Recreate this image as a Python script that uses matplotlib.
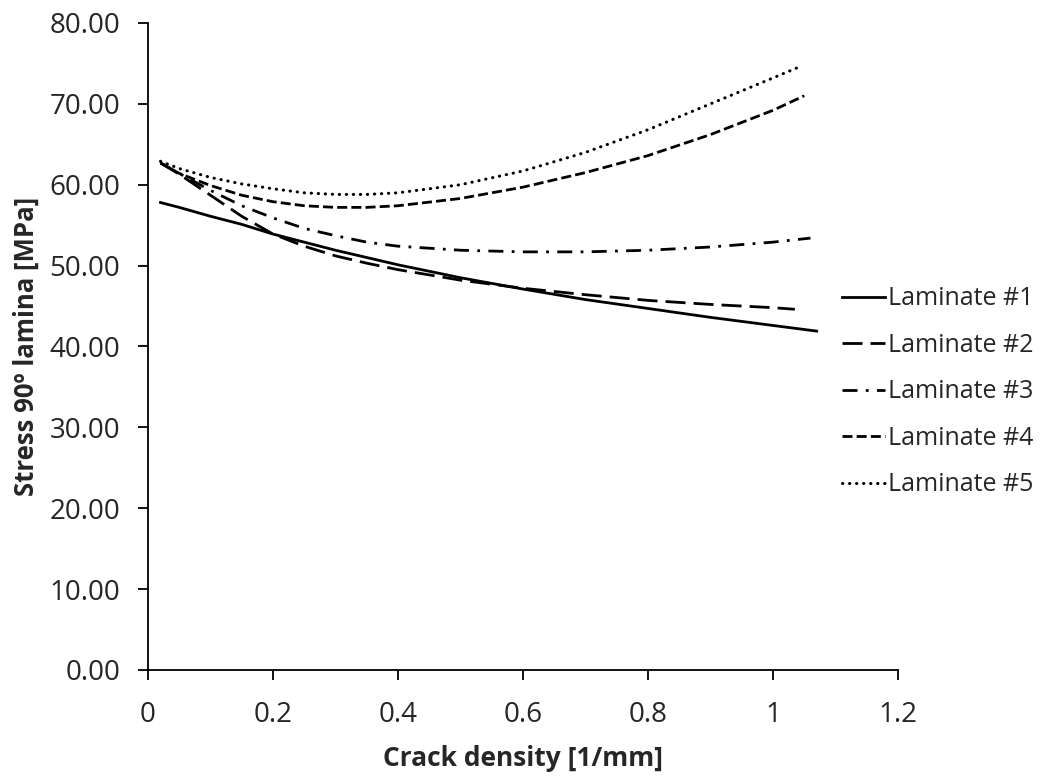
import matplotlib
matplotlib.use("Agg")
from matplotlib import pyplot as plt

plt.rcParams['font.family'] = ['Open Sans', 'DejaVu Sans']

# Crack density [1/mm] and stress [MPa]
x1 = [0.02, 0.05, 0.1, 0.15, 0.2, 0.25, 0.3, 0.35, 0.4, 0.5, 0.6, 0.7, 0.8, 0.9, 1.0, 1.07]
y1 = [57.8, 57.2, 56.1, 55.1, 53.9, 52.9, 51.9, 51.0, 50.1, 48.5, 47.1, 45.8, 44.7, 43.6, 42.6, 41.9]

x2 = [0.02, 0.05, 0.1, 0.15, 0.2, 0.25, 0.3, 0.35, 0.4, 0.5, 0.6, 0.7, 0.8, 0.9, 1.0, 1.035]
y2 = [62.7, 61.3, 58.7, 56.1, 53.9, 52.4, 51.2, 50.3, 49.5, 48.2, 47.2, 46.4, 45.7, 45.2, 44.8, 44.6]

x3 = [0.02, 0.05, 0.1, 0.15, 0.2, 0.25, 0.3, 0.35, 0.4, 0.5, 0.6, 0.7, 0.8, 0.9, 1.0, 1.06]
y3 = [62.7, 61.4, 59.3, 57.4, 55.9, 54.6, 53.7, 52.9, 52.4, 51.9, 51.7, 51.7, 51.9, 52.3, 52.9, 53.4]

x4 = [0.02, 0.05, 0.1, 0.15, 0.2, 0.25, 0.3, 0.35, 0.4, 0.5, 0.6, 0.7, 0.8, 0.9, 1.0, 1.05]
y4 = [62.7, 61.4, 59.9, 58.7, 57.9, 57.4, 57.2, 57.2, 57.4, 58.3, 59.7, 61.5, 63.6, 66.2, 69.2, 71.0]

x5 = [0.02, 0.05, 0.1, 0.15, 0.2, 0.25, 0.3, 0.35, 0.4, 0.5, 0.6, 0.7, 0.8, 0.9, 1.0, 1.04]
y5 = [62.9, 62.0, 60.9, 60.1, 59.5, 59.0, 58.8, 58.8, 59.0, 60.0, 61.7, 64.0, 66.8, 70.0, 73.2, 74.5]

labels = ["Laminate #1", "Laminate #2", "Laminate #3", "Laminate #4", "Laminate #5"]

fig = plt.figure(figsize=(10.51, 7.76), dpi=100)
ax = fig.add_axes([0.1408, 0.1366, 0.8544 - 0.1408, 0.9704 - 0.1366])

lw = 2.0
ax.plot(x1, y1, color="black", lw=lw, linestyle="-", label=labels[0])
ax.plot(x2, y2, color="black", lw=lw, linestyle=(0, (7.2, 2.9)), label=labels[1])
ax.plot(x3, y3, color="black", lw=lw, linestyle=(0, (5.4, 3.0, 1.0, 3.0)), label=labels[2])
ax.plot(x4, y4, color="black", lw=lw, linestyle=(0, (3.6, 1.5)), label=labels[3])
ax.plot(x5, y5, color="black", lw=2.2, linestyle=(0, (0.1, 2.2)), dash_capstyle="round", label=labels[4])

ax.set_xlim(0, 1.2)
ax.set_ylim(0, 80)
ax.set_xticks([0, 0.2, 0.4, 0.6, 0.8, 1.0, 1.2])
ax.set_xticklabels(["0", "0.2", "0.4", "0.6", "0.8", "1", "1.2"])
ax.set_yticks(range(0, 81, 10))
ax.set_yticklabels([f"{v:.2f}" for v in range(0, 81, 10)])

ax.spines['top'].set_visible(False)
ax.spines['right'].set_visible(False)
for s in ('left', 'bottom'):
    ax.spines[s].set_linewidth(1.3)
ax.tick_params(axis='both', direction='out', length=7, width=1.3, labelsize=20,
               colors='black', labelcolor='#262626')
ax.tick_params(axis='y', pad=13)
ax.tick_params(axis='x', pad=15.5)

ax.set_xlabel("Crack density [1/mm]", fontsize=19, fontweight='bold', labelpad=11, color='#262626')
ax.set_ylabel("Stress 90º lamina [MPa]", fontsize=18.5, fontweight='bold', labelpad=7, color='#262626')

ax.legend(loc='center left', bbox_to_anchor=(0.925, 0.43), frameon=False, fontsize=18,
          handlelength=1.72, handletextpad=0.12, labelspacing=0.86, labelcolor='#262626',
          borderpad=0, borderaxespad=0)

fig.savefig("out.png", dpi=100)
